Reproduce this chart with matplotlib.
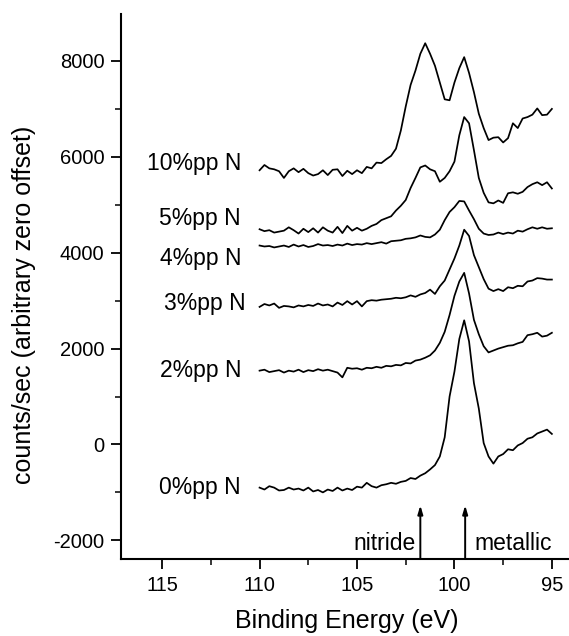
import numpy as np
from matplotlib import pyplot as plt

plt.rcParams['font.family'] = ['Liberation Sans', 'DejaVu Sans']
plt.rcParams['axes.unicode_minus'] = False

# binding energy grid of the scans (eV), 110 -> 95 in 0.25 steps
energy = np.arange(110, 94.99, -0.25)

# counts/sec, each spectrum already shifted by its offset
pp0 = [-900, -940, -870, -900, -960, -950, -900, -940, -920, -960, -900, -980,
       -950, -1000, -940, -970, -900, -960, -920, -950, -880, -900, -800, -870,
       -900, -850, -830, -800, -820, -780, -760, -700, -720, -650,
       -600, -520, -430, -250, 150, 1000, 1520, 2200, 2590, 2150,
       1280, 750, 30, -250, -400, -250, -200, -100, -120, -20,
       30, 120, 150, 230, 270, 310, 220]
pp2 = [1540, 1560, 1510, 1530, 1550, 1500, 1540, 1520, 1560, 1510, 1550, 1530,
       1570, 1540, 1560, 1530, 1500, 1400, 1600, 1580, 1590, 1560, 1600, 1590,
       1620, 1600, 1640, 1630, 1660, 1650, 1700, 1690, 1750, 1770,
       1810, 1860, 1960, 2120, 2350, 2700, 3100, 3400, 3580, 3150,
       2600, 2300, 2050, 1920, 1960, 2000, 2030, 2060, 2070, 2110,
       2140, 2280, 2300, 2330, 2250, 2270, 2330]
pp3 = [2870, 2930, 2900, 2940, 2850, 2890, 2880, 2860, 2900, 2880, 2910, 2890,
       2940, 2900, 2920, 2880, 2960, 2910, 2990, 2920, 2990, 2880, 2990, 3010,
       3000, 3020, 3030, 3040, 3060, 3050, 3070, 3110, 3080, 3130,
       3160, 3230, 3140, 3300, 3420, 3650, 3880, 4150, 4480, 4350,
       3950, 3700, 3450, 3250, 3200, 3240, 3200, 3280, 3260, 3310,
       3300, 3400, 3420, 3470, 3460, 3440, 3440]
pp4 = [4150, 4130, 4140, 4110, 4130, 4150, 4120, 4170, 4130, 4160, 4120, 4140,
       4180, 4150, 4160, 4140, 4170, 4150, 4190, 4160, 4180, 4170, 4200, 4180,
       4200, 4220, 4190, 4240, 4250, 4260, 4290, 4300, 4320, 4360,
       4330, 4320, 4380, 4480, 4680, 4850, 4950, 5080, 5070, 4880,
       4700, 4500, 4400, 4370, 4380, 4420, 4390, 4420, 4400, 4460,
       4440, 4490, 4530, 4500, 4530, 4500, 4510]
pp5 = [4490, 4450, 4470, 4420, 4440, 4460, 4530, 4470, 4400, 4500, 4430, 4510,
       4420, 4530, 4460, 4420, 4540, 4410, 4560, 4460, 4520, 4460, 4500, 4560,
       4600, 4680, 4720, 4760, 4880, 4980, 5100, 5350, 5560, 5780,
       5820, 5740, 5700, 5480, 5560, 5700, 5900, 6450, 6830, 6700,
       6140, 5560, 5250, 5050, 5030, 5090, 5040, 5240, 5260, 5230,
       5270, 5370, 5430, 5470, 5410, 5470, 5340]
pp10 = [5720, 5830, 5760, 5740, 5700, 5560, 5700, 5760, 5680, 5750, 5660, 5610,
        5640, 5720, 5620, 5730, 5740, 5600, 5710, 5640, 5720, 5660, 5790, 5760,
        5880, 5870, 5950, 6020, 6170, 6550, 7050, 7500, 7800, 8150,
        8370, 8150, 7900, 7550, 7200, 7180, 7550, 7850, 8080, 7750,
        7350, 6900, 6600, 6350, 6400, 6410, 6300, 6390, 6700, 6600,
        6800, 6830, 6880, 7010, 6870, 6880, 7000]

spectra = [pp0, pp2, pp3, pp4, pp5, pp10]
labels = ["0%pp N", "2%pp N", "3%pp N", "4%pp N", "5%pp N", "10%pp N"]
label_x = [110.95, 110.95, 110.7, 110.95, 110.95, 110.95]
label_y = [-900, 1545, 2940, 3880, 4720, 5870]

peaks = [101.75, 99.45]  # nitride, metallic

fig = plt.figure(figsize=(5.69, 6.36), dpi=100)
ax = fig.add_axes([0.213, 0.121, 0.785, 0.857])

for y in spectra:
    ax.plot(energy, y, color="black", lw=1.25)

for lab, lx, ly in zip(labels, label_x, label_y):
    ax.text(lx, ly, lab, ha="right", va="center", fontsize=16.5)

ymin, ymax = -2390, 8980
for p in peaks:
    ax.annotate("", xy=(p, -1270), xytext=(p, ymin),
                arrowprops=dict(arrowstyle="-|>,head_length=0.5,head_width=0.15",
                                color="black", lw=1.4, shrinkA=0, shrinkB=0))
ax.text(102.0, -2070, "nitride", ha="right", va="center", fontsize=16.5)
ax.text(98.97, -2070, "metallic", ha="left", va="center", fontsize=16.5)

ax.set_xlim(117.1, 94.18)
ax.set_ylim(ymin, ymax)
ax.set_xticks([115, 110, 105, 100, 95])
ax.set_xticks([112.5, 107.5, 102.5, 97.5], minor=True)
ax.set_yticks([-2000, 0, 2000, 4000, 6000, 8000])
ax.set_yticks([-1000, 1000, 3000, 5000, 7000], minor=True)

for s in ["top", "right"]:
    ax.spines[s].set_visible(False)
for s in ["left", "bottom"]:
    ax.spines[s].set_linewidth(1.5)
ax.tick_params(which="major", direction="out", length=7, width=1.3, labelsize=14.5, pad=5)
ax.tick_params(which="minor", direction="out", length=4, width=1.1)

ax.set_xlabel("Binding Energy (eV)", fontsize=18)
ax.set_ylabel("counts/sec (arbitrary zero offset)", fontsize=18)
ax.xaxis.set_label_coords(0.506, -0.092)
ax.yaxis.set_label_coords(-0.19, 0.466)

plt.savefig("out.png", dpi=100)
